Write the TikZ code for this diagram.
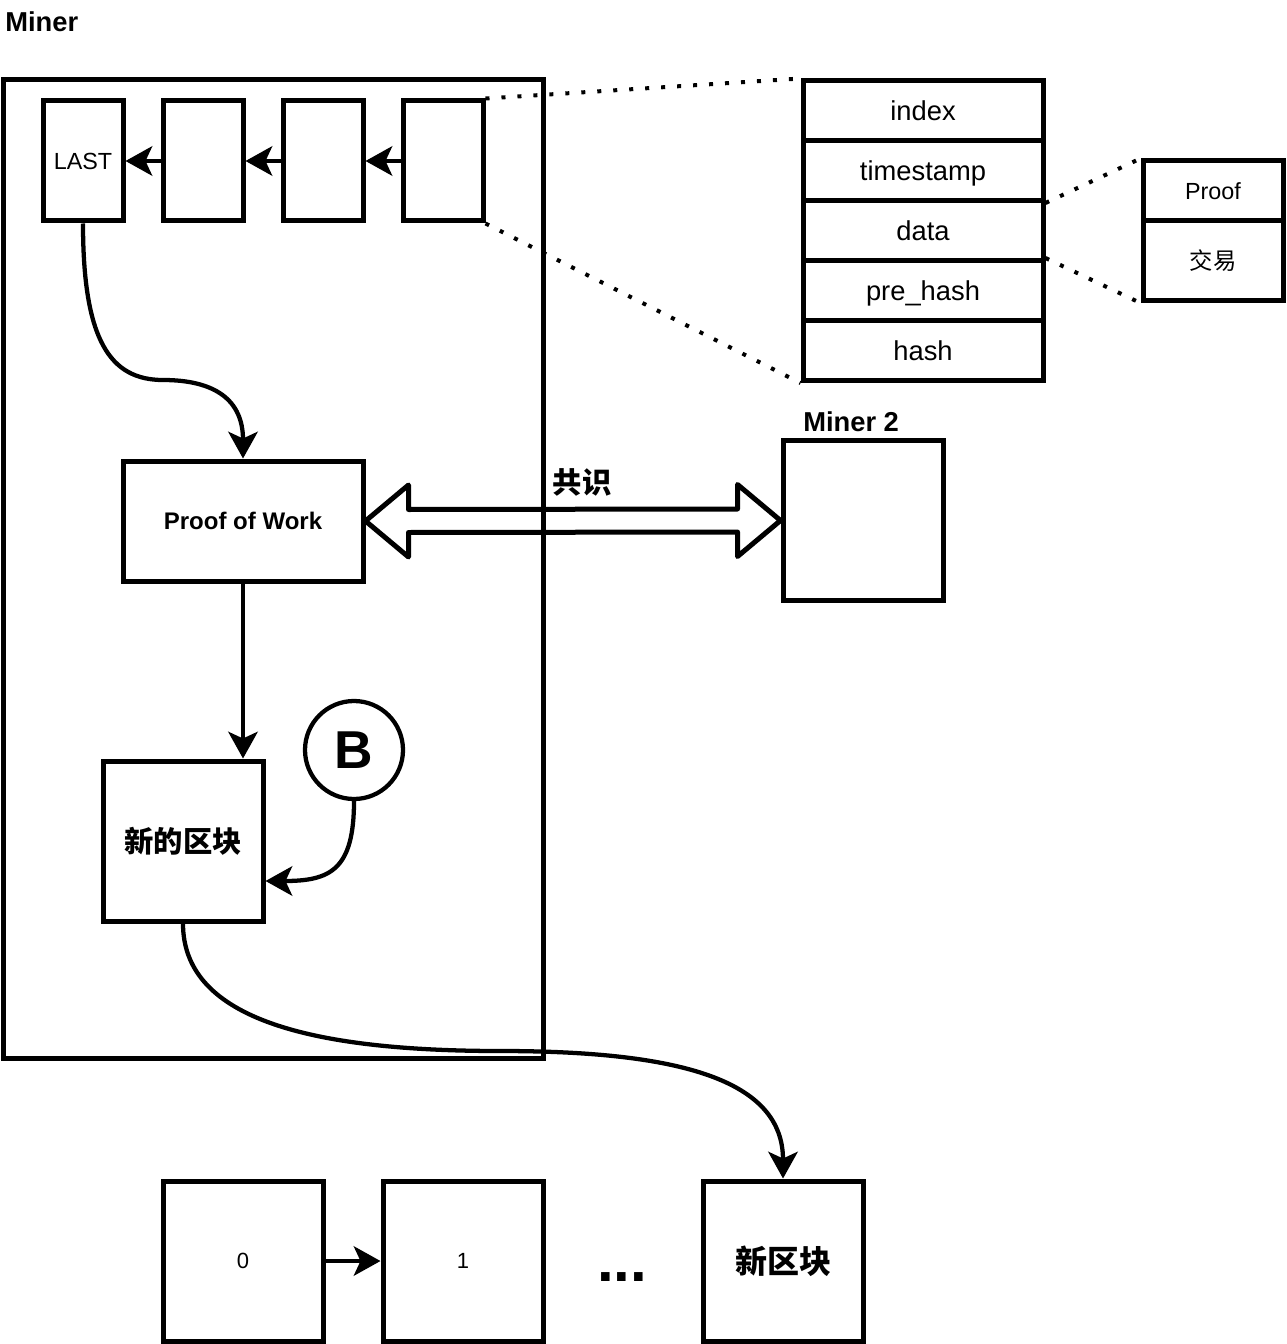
\documentclass[tikz,border=0pt]{standalone}
\usepackage{fontspec}
\setmainfont{Liberation Sans}
\newfontfamily\cjk{Noto Sans CJK SC}
\usetikzlibrary{arrows.meta,calc}
\newcommand\fsz[1]{\fontsize{#1}{#1}\selectfont}
\begin{document}
\begin{tikzpicture}[x=0.75pt,y=-0.75pt,
  blk/.style={draw=black,line width=3.75pt,inner sep=0pt,align=center},
  smallblk/.style={blk,minimum width=60pt,minimum height=90pt,font=\fsz{17.5}},
  bigblk/.style={blk,minimum width=120pt,minimum height=120pt},
  rowbox/.style={blk,minimum width=180pt,minimum height=45pt,font=\fsz{20.5},text depth=0pt},
  proofrow/.style={blk,minimum width=105pt,font=\fsz{17.5}},
  conn/.style={line width=3.2pt,-{Stealth[length=20pt,width=22pt,inset=5pt]}},
  dotline/.style={line width=3pt,dash pattern=on 3pt off 9pt},
  flex/.style={line width=3.75pt,line join=round},
  lbl/.style={inner sep=0pt}]
\useasboundingbox (0,0) rectangle (1286,1344);

% titles
\node[lbl,anchor=base west,font=\bfseries\fsz{20.5}] (tminer) at (5,32) {Miner};
\node[lbl,anchor=base west,font=\bfseries\fsz{20.5}] (tminer2) at (803,431.7) {Miner 2};

% Miner frame
\node[blk,minimum width=405pt,minimum height=733.5pt] (miner) at (273,569) {};

% chain in miner
\node[smallblk] (b1) at (83,161) {LAST};
\node[smallblk] (b2) at (203,161) {};
\node[smallblk] (b3) at (323,161) {};
\node[smallblk] (b4) at (443,161) {};
\draw[conn] (b2.west) -- (b1.east);
\draw[conn] (b3.west) -- (b2.east);
\draw[conn] (b4.west) -- (b3.east);

% record
\node[rowbox] (r1) at (923,111) {index};
\node[rowbox] (r2) at (923,170.5) {timestamp};
\node[rowbox] (r3) at (923,230.5) {data};
\node[rowbox] (r4) at (923,290.5) {pre\_hash};
\node[rowbox] (r5) at (923,350.5) {hash};

% data detail
\node[proofrow,minimum height=45pt] (p1) at (1213,191) {Proof};
\node[proofrow,minimum height=60pt] (p2) at (1213,260.5) {\cjk 交易};

% dotted links
\draw[dotline] (b4.north east) -- (r1.north west);
\draw[dotline] (b4.south east) -- (r5.south west);
\draw[dotline] (r2.south east) -- (p1.north west);
\draw[dotline] (r4.north east) -- (p2.south west);

% proof of work
\node[blk,minimum width=180pt,minimum height=90pt,font=\bfseries\fsz{18}] (pow) at (243,521) {Proof of Work};
\node[bigblk] (m2) at (863,520.5) {};

\draw[conn] (b1.south) .. controls (83,340) and (110,380) .. (163,380)
  .. controls (215,380) and (243,400) .. (pow.north);

% consensus flex arrow
\draw[flex] (pow.east) -- ++(43,-36) -- ++(0,24.5) -- ($(m2.west)+(-43,-11.5)$)
  -- ++(0,-24.5) -- (m2.west) -- ++(-43,36) -- ++(0,-24.5)
  -- ($(pow.east)+(43,11.5)$) -- ++(0,24.5) -- cycle;
\node[lbl,font=\cjk\bfseries\fsz{22}] (gs) at (582,482) {共识};

% new block
\node[bigblk,font=\cjk\bfseries\fsz{22}] (nb) at (183,841) {新的区块};
\node[draw=black,circle,line width=3.2pt,minimum size=73.5pt,inner sep=0pt,font=\bfseries\fsz{40}] (B) at (354,750) {B};
\draw[conn] (pow.south) -- (pow.south |- nb.north);
\draw[conn] (B.south) .. controls (354,870) and (330,881) .. ($(nb.east)+(0,40)$);

% bottom chain
\node[bigblk,font=\fsz{16.5}] (z0) at (243,1261) {0};
\node[bigblk,font=\fsz{16.5}] (z1) at (463,1261) {1};
\node[bigblk,font=\cjk\bfseries\fsz{24}] (zn) at (783,1261) {新区块};
\node[lbl,anchor=base,font=\bfseries\fsz{45}] (dots) at (622,1281.7) {...};
\draw[conn] (z0.east) -- (z1.west);

\draw[conn] (nb.south) .. controls (183,1015) and (300,1051) .. (500,1051)
  .. controls (680,1051) and (783,1080) .. (zn.north);
\end{tikzpicture}
\end{document}
